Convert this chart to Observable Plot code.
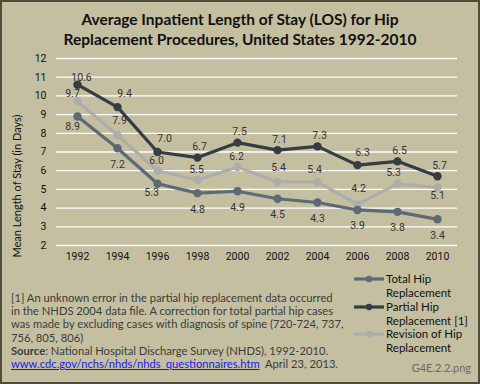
<!DOCTYPE html>
<html>
<head>
<meta charset="utf-8">
<script src="https://cdn.jsdelivr.net/npm/d3@7"></script>
<script src="https://cdn.jsdelivr.net/npm/@observablehq/plot@0.6"></script>
<style>
  html, body { margin: 0; padding: 0; background: #c3bfa0; }
  #chart { position: relative; width: 480px; height: 384px; background: #c3bfa0; overflow: hidden; font-family: Lato, "Open Sans", sans-serif; }
  #frame { position: absolute; left: 0; top: 0; width: 480px; height: 384px; box-sizing: border-box; border: 2px solid #4e4d3b; pointer-events: none; }
  #title { position: absolute; left: 0; top: 9px; width: 480px; text-align: center; font-weight: bold; font-size: 15.5px; line-height: 20px; color: #111; }
  #plot { position: absolute; left: 0; top: 0; }
  #ytitle { position: absolute; left: 16px; top: 186px; transform: translate(-50%, -50%) rotate(-90deg); white-space: nowrap; font-size: 11px; color: #111; }
  #notes { position: absolute; left: 11px; top: 291px; font-size: 11.2px; line-height: 13.2px; color: #3c3c3c; }
  #notes a { color: #1a1aee; text-decoration: underline; }
  #legend { position: absolute; left: 353px; top: 272px; font-size: 11.5px; line-height: 14px; color: #111; }
  .item { position: relative; height: 27.5px; padding-left: 33px; }
  .item svg { position: absolute; left: 0; top: 1px; }
  #fname { position: absolute; right: 9px; top: 361px; font-size: 11px; color: #6a6a6a; }
</style>
</head>
<body>
<div id="chart">
  <div id="title">Average Inpatient Length of Stay (LOS) for Hip<br>Replacement Procedures, United States 1992-2010</div>
  <div id="plot"></div>
  <div id="ytitle">Mean Length of Stay (in Days)</div>
  <div id="notes">
    [1] An unknown error in the partial hip replacement data occurred<br>
    in the NHDS 2004 data file. A correction for total partial hip cases<br>
    was made by excluding cases with diagnosis of spine (720-724, 737,<br>
    756, 805, 806)<br>
    <b>Source</b>: National Hospital Discharge Survey (NHDS), 1992-2010.<br>
    <a>www.cdc.gov/nchs/nhds/nhds_questionnaires.htm</a>&nbsp; April 23, 2013.
  </div>
  <div id="legend"></div>
  <div id="fname">G4E.2.2.png</div>
  <div id="frame"></div>
</div>
<script>
const years = [1992, 1994, 1996, 1998, 2000, 2002, 2004, 2006, 2008, 2010];
const seriesNames = ["Total Hip Replacement", "Partial Hip Replacement [1]", "Revision of Hip Replacement"];
const totalHip = [8.9, 7.2, 5.3, 4.8, 4.9, 4.5, 4.3, 3.9, 3.8, 3.4];
const partialHip = [10.6, 9.4, 7.0, 6.7, 7.5, 7.1, 7.3, 6.3, 6.5, 5.7];
const revisionHip = [9.7, 7.9, 6.0, 5.5, 6.2, 5.4, 5.4, 4.2, 5.3, 5.1];
const yTicks = [2, 3, 4, 5, 6, 7, 8, 9, 10, 11, 12];

const colors = ["#5c6a76", "#363c43", "#adadab"];

const data = [];
[totalHip, partialHip, revisionHip].forEach((vals, si) => {
  vals.forEach((v, i) => data.push({ series: seriesNames[si], si, year: years[i], value: v }));
});

// label placement (pixel offsets) — presentation only
function labelOffset(d) {
  if (d.si === 0) {
    if (d.year === 1992) return [-5, 10];
    if (d.year === 1996) return [-6, 9];
    return [0, 16];
  }
  if (d.si === 1) {
    if (d.year === 1992) return [4, -7];
    if (d.year === 1994 || d.year === 1996) return [7, -13];
    if (d.year === 2006) return [5, -12];
    return [2, -11];
  }
  if (d.year === 1992) return [-5, -8];
  if (d.year === 1994) return [2, -15];
  if (d.year === 2002) return [1, -14];
  if (d.year === 2004) return [-3, -12];
  if (d.year === 2006) return [1, -16];
  if (d.year === 2008) return [-4, -11];
  if (d.year === 2010) return [0, 8];
  return [-1, -10];
}

const drawOrder = [2, 0, 1];
const marks = [
  Plot.gridY(yTicks, { stroke: "#ffffff", strokeOpacity: 1, strokeWidth: 1.3 })
];
drawOrder.forEach(si => {
  const sd = data.filter(d => d.si === si);
  marks.push(Plot.line(sd, { x: "year", y: "value", stroke: colors[si], strokeWidth: 3.2 }));
  marks.push(Plot.dot(sd, { x: "year", y: "value", fill: colors[si], r: 4.2 }));
});
data.forEach(d => {
  const [dx, dy] = labelOffset(d);
  marks.push(Plot.text([d], {
    x: "year", y: "value", text: v => v.value.toFixed(1), dx, dy,
    fill: "#333", fontSize: 10.5, fontFamily: "Roboto, 'Liberation Sans', sans-serif"
  }));
});

const chart = Plot.plot({
  width: 480,
  height: 275,
  marginTop: 58,
  marginBottom: 30,
  marginLeft: 56,
  marginRight: 23,
  style: { background: "transparent", fontFamily: "Roboto, 'Liberation Sans', sans-serif", fontSize: "10.5px", color: "#111", overflow: "visible" },
  x: { type: "point", domain: years, padding: 0.5, tickSize: 0, tickPadding: 7, label: null, tickFormat: d => String(d) },
  y: { domain: [2, 12], ticks: yTicks, tickSize: 0, tickPadding: 10, label: null },
  marks
});
document.getElementById("plot").appendChild(chart);

// legend
const legend = document.getElementById("legend");
const legendLines = [["Total Hip", "Replacement"], ["Partial Hip", "Replacement [1]"], ["Revision of Hip", "Replacement"]];
seriesNames.forEach((name, si) => {
  const item = document.createElement("div");
  item.className = "item";
  item.innerHTML = `<svg width="32" height="12"><line x1="1" x2="31" y1="6" y2="6" stroke="${colors[si]}" stroke-width="3.2"/><circle cx="16" cy="6" r="3.2" fill="${colors[si]}"/></svg>${legendLines[si][0]}<br>${legendLines[si][1]}`;
  legend.appendChild(item);
});
</script>
</body>
</html>
